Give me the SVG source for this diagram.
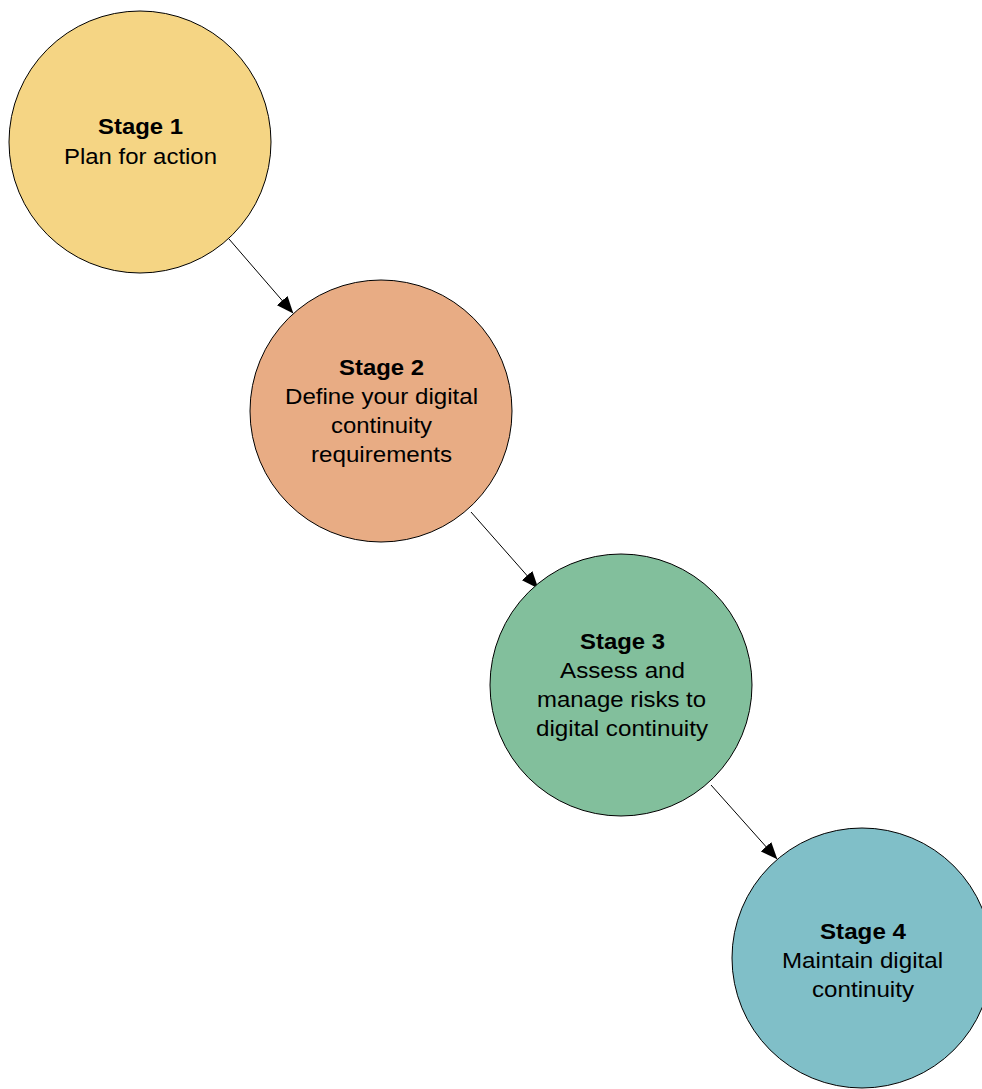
<svg xmlns="http://www.w3.org/2000/svg" width="982" height="1089" viewBox="0 0 982 1089">
<style>
.node{stroke:#000;stroke-width:1}
.t{font-family:"Liberation Sans",Arial,sans-serif;font-size:21.5px;text-anchor:middle;fill:#000}
.b{font-weight:bold}
.c{stroke:#000;stroke-width:1;fill:none;marker-end:url(#ah)}
</style>
<defs>
<marker id="ah" markerWidth="17" markerHeight="14" refX="16.5" refY="7" orient="auto" markerUnits="userSpaceOnUse">
<path d="M0,0 L17,7 L0,14 z" fill="#000"/>
</marker>
</defs>
<rect width="982" height="1089" fill="#fff"/>
<g id="connectors">
<line class="c" x1="229" y1="239" x2="293" y2="313"/>
<line class="c" x1="471" y1="512" x2="538" y2="588"/>
<line class="c" x1="711" y1="785" x2="777" y2="859"/>
</g>
<g id="stage1">
<circle class="node" cx="140" cy="142" r="131" fill="#F5D584"/>
<text class="t b" x="140.5" y="134" textLength="85" lengthAdjust="spacingAndGlyphs">Stage 1</text>
<text class="t" x="140.5" y="164" textLength="153" lengthAdjust="spacingAndGlyphs">Plan for action</text>
</g>
<g id="stage2">
<circle class="node" cx="381" cy="411" r="131" fill="#E8AC84"/>
<text class="t b" x="381.5" y="375" textLength="85" lengthAdjust="spacingAndGlyphs">Stage 2</text>
<text class="t" x="381.5" y="404" textLength="193" lengthAdjust="spacingAndGlyphs">Define your digital</text>
<text class="t" x="381.5" y="433" textLength="101" lengthAdjust="spacingAndGlyphs">continuity</text>
<text class="t" x="381.5" y="462" textLength="141" lengthAdjust="spacingAndGlyphs">requirements</text>
</g>
<g id="stage3">
<circle class="node" cx="621" cy="685" r="131" fill="#82BF9C"/>
<text class="t b" x="622.5" y="649" textLength="85" lengthAdjust="spacingAndGlyphs">Stage 3</text>
<text class="t" x="622.5" y="678" textLength="125" lengthAdjust="spacingAndGlyphs">Assess and</text>
<text class="t" x="621.5" y="707" textLength="169" lengthAdjust="spacingAndGlyphs">manage risks to</text>
<text class="t" x="622" y="736" textLength="172" lengthAdjust="spacingAndGlyphs">digital continuity</text>
</g>
<g id="stage4">
<circle class="node" cx="862" cy="958" r="130" fill="#80BFC8"/>
<text class="t b" x="863" y="939" textLength="86" lengthAdjust="spacingAndGlyphs">Stage 4</text>
<text class="t" x="862.5" y="968" textLength="161" lengthAdjust="spacingAndGlyphs">Maintain digital</text>
<text class="t" x="863" y="997" textLength="102" lengthAdjust="spacingAndGlyphs">continuity</text>
</g>
</svg>
